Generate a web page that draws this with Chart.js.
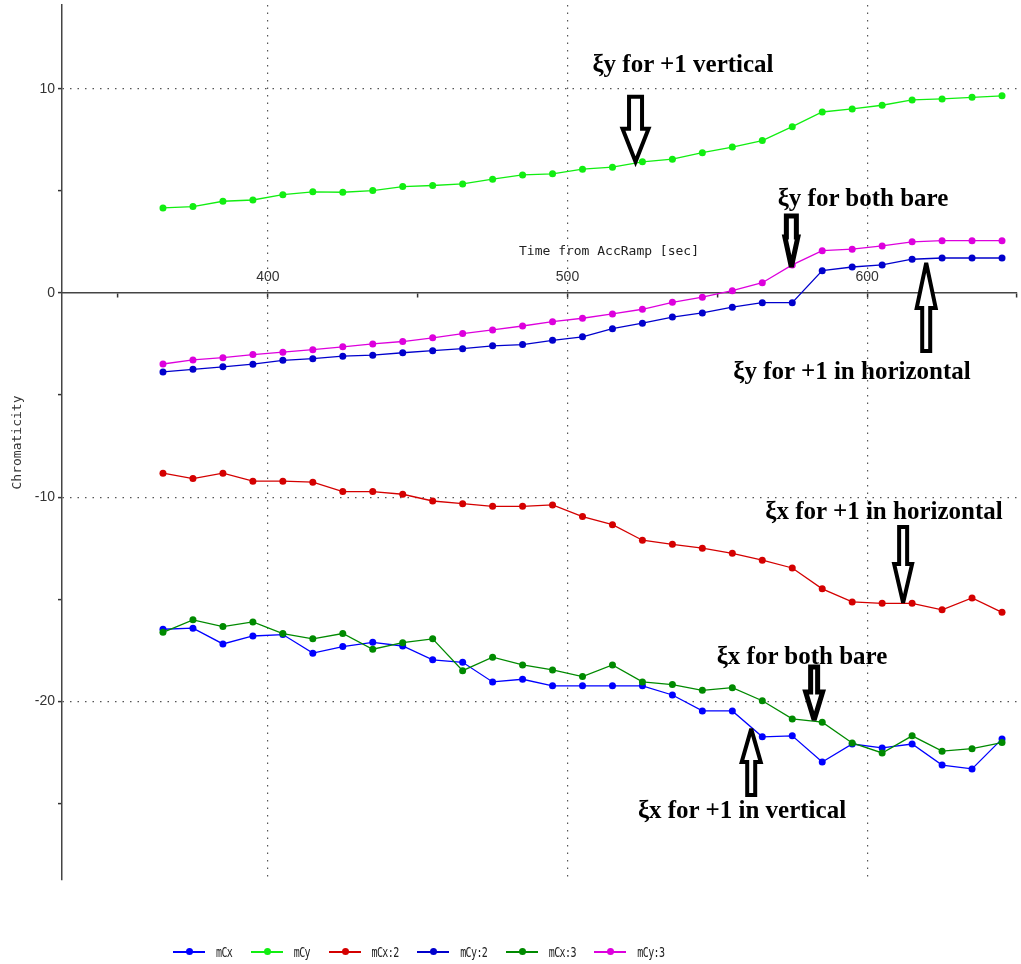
<!DOCTYPE html>
<html>
<head>
<meta charset="utf-8">
<title>Chromaticity vs time from AccRamp</title>
<script src="https://cdn.jsdelivr.net/npm/chart.js@4/dist/chart.umd.min.js"></script>
<style>
    html, body { margin: 0; padding: 0; background: #fff; }
    #wrap { position: relative; width: 1021px; height: 964px; }
    #wrap canvas { position: absolute; left: 0; top: 0; }
    .note {
        position: absolute;
        transform: translate(-50%, -50%);
        font: bold 25px "Liberation Serif", "Times New Roman", serif;
        color: #000;
        white-space: nowrap;
        line-height: 1;
    }
    .xtitle {
        position: absolute;
        transform: translate(-50%, -50%);
        font: 13px "DejaVu Sans Mono", monospace;
        color: #222;
        white-space: nowrap;
    }
    #legend {
        position: absolute;
        left: 173px;
        top: 944px;
        height: 16px;
        display: flex;
        align-items: center;
    }
    #legend .item { display: flex; align-items: center; margin-right: 18.5px; }
    #legend .sw { position: relative; width: 32px; height: 1.6px; margin-right: 11px; }
    #legend .sw i { position: absolute; left: 13px; top: -3px; width: 7px; height: 7px; border-radius: 50%; }
    #legend .lbl {
        display: inline-block;
        font: 10px "DejaVu Sans Mono", monospace;
        letter-spacing: -0.6px;
        color: #222;
        transform: scaleY(1.4);
    }
</style>
</head>
<body>
<div id="wrap">
    <canvas id="chart"></canvas>
    <div class="xtitle" style="left:609px; top:250px;">Time from AccRamp [sec]</div>
    <div id="legend"></div>
</div>
<script>
// time axis (sec from AccRamp)
var times = [365, 375, 385, 395, 405, 415, 425, 435, 445, 455, 465, 475, 485, 495, 505,
             515, 525, 535, 545, 555, 565, 575, 585, 595, 605, 615, 625, 635, 645];

var mCx  = [-16.47, -16.42, -17.19, -16.80, -16.73, -17.64, -17.32, -17.11, -17.29, -17.97,
            -18.09, -19.05, -18.92, -19.24, -19.24, -19.24, -19.24, -19.69, -20.47, -20.47,
            -21.74, -21.69, -22.97, -22.09, -22.28, -22.09, -23.12, -23.31, -21.84];
var mCy  = [4.16, 4.23, 4.49, 4.55, 4.81, 4.95, 4.93, 5.01, 5.21, 5.26,
            5.34, 5.57, 5.78, 5.83, 6.06, 6.16, 6.42, 6.55, 6.87, 7.14,
            7.46, 8.14, 8.86, 9.01, 9.19, 9.45, 9.50, 9.58, 9.65];
var mCx2 = [-8.83, -9.09, -8.83, -9.22, -9.22, -9.27, -9.73, -9.73, -9.86, -10.19,
            -10.32, -10.45, -10.45, -10.38, -10.95, -11.35, -12.11, -12.31, -12.50, -12.75,
            -13.09, -13.47, -14.49, -15.13, -15.20, -15.20, -15.52, -14.94, -15.64];
var mCy2 = [-3.87, -3.74, -3.62, -3.49, -3.30, -3.22, -3.10, -3.05, -2.93, -2.83,
            -2.73, -2.59, -2.53, -2.32, -2.15, -1.75, -1.48, -1.18, -0.98, -0.70,
            -0.48, -0.48, 1.09, 1.27, 1.37, 1.65, 1.71, 1.71, 1.71];
var mCx3 = [-16.62, -16.01, -16.34, -16.11, -16.68, -16.94, -16.68, -17.45, -17.13, -16.94,
            -18.50, -17.84, -18.22, -18.46, -18.79, -18.22, -19.05, -19.18, -19.46, -19.33,
            -19.97, -20.86, -21.02, -22.04, -22.53, -21.69, -22.44, -22.32, -22.02];
var mCy3 = [-3.48, -3.28, -3.17, -3.02, -2.90, -2.78, -2.64, -2.50, -2.38, -2.20,
            -1.99, -1.81, -1.62, -1.41, -1.24, -1.03, -0.80, -0.46, -0.21, 0.11,
            0.50, 1.37, 2.07, 2.14, 2.30, 2.50, 2.56, 2.56, 2.56];

var seriesNames  = ['mCx', 'mCy', 'mCx:2', 'mCy:2', 'mCx:3', 'mCy:3'];
var seriesValues = [mCx, mCy, mCx2, mCy2, mCx3, mCy3];
var seriesColors = ['#0000ff', '#11ee11', '#d40000', '#0000cc', '#008a00', '#dd00dd'];

// annotations: text (pixel placement) and arrows pointing at a (time, chromaticity) spot
var notes = [
    { text: 'ξy for +1 vertical',      tx: 683, ty: 63,  at: [522.7, 6.42],   dir: 'down', len: 65, head: 33, headW: 26, shaftW: 13, lw: 4 },
    { text: 'ξy for both bare',        tx: 863, ty: 197, at: [574.7, 1.27],   dir: 'down', len: 51, head: 30, headW: 13, shaftW: 10, lw: 5 },
    { text: 'ξy for +1 in horizontal', tx: 852, ty: 370, at: [619.7, 1.47],   dir: 'up',   len: 88, head: 45, headW: 19, shaftW: 8,  lw: 4 },
    { text: 'ξx for +1 in horizontal', tx: 884, ty: 510, at: [612.0, -15.18], dir: 'down', len: 76, head: 39, headW: 18, shaftW: 8,  lw: 4 },
    { text: 'ξx for both bare',        tx: 802, ty: 655, at: [582.3, -20.91], dir: 'down', len: 53, head: 28, headW: 17, shaftW: 7,  lw: 5 },
    { text: 'ξx for +1 in vertical',   tx: 742, ty: 809, at: [561.3, -21.35], dir: 'up',   len: 66, head: 33, headW: 19, shaftW: 8,  lw: 4 }
];

var wrap = document.getElementById('wrap');
notes.forEach(function(n) {
    var d = document.createElement('div');
    d.className = 'note';
    d.style.left = n.tx + 'px';
    d.style.top = n.ty + 'px';
    d.textContent = n.text;
    wrap.appendChild(d);
});

var legend = document.getElementById('legend');
seriesNames.forEach(function(name, i) {
    var item = document.createElement('div');
    item.className = 'item';
    item.innerHTML = '<span class="sw" style="background:' + seriesColors[i] + '"><i style="background:' +
        seriesColors[i] + '"></i></span><span class="lbl">' + name + '</span>';
    legend.appendChild(item);
});

var arrows = {
    id: 'arrows',
    afterDatasetsDraw: function(chart) {
        var ctx = chart.ctx, xs = chart.scales.x, ys = chart.scales.y;
        notes.forEach(function(n) {
            var x = xs.getPixelForValue(n.at[0]);
            var y = ys.getPixelForValue(n.at[1]);
            var s = n.dir === 'down' ? -1 : 1;   // side where the tail is
            ctx.save();
            ctx.beginPath();
            ctx.moveTo(x - n.shaftW / 2, y + s * n.len);
            ctx.lineTo(x + n.shaftW / 2, y + s * n.len);
            ctx.lineTo(x + n.shaftW / 2, y + s * n.head);
            ctx.lineTo(x + n.headW / 2, y + s * n.head);
            ctx.lineTo(x, y);
            ctx.lineTo(x - n.headW / 2, y + s * n.head);
            ctx.lineTo(x - n.shaftW / 2, y + s * n.head);
            ctx.closePath();
            ctx.fillStyle = '#fff';
            ctx.fill();
            ctx.lineWidth = n.lw;
            ctx.lineJoin = 'miter';
            ctx.miterLimit = 3;
            ctx.strokeStyle = '#000';
            ctx.stroke();
            ctx.restore();
        });
    }
};

var datasets = seriesNames.map(function(name, i) {
    return {
        label: name,
        data: times.map(function(t, k) { return { x: t, y: seriesValues[i][k] }; }),
        borderColor: seriesColors[i],
        backgroundColor: seriesColors[i],
        pointBackgroundColor: seriesColors[i],
        pointBorderWidth: 0,
        pointRadius: 3.5,
        borderWidth: 1.3,
        tension: 0,
        fill: false,
        order: seriesNames.length - i
    };
});

var tickFont = { family: 'Liberation Sans', size: 14 };
var dots = [1.5, 6];
var none = 'rgba(0,0,0,0)';

new Chart(document.getElementById('chart').getContext('2d'), {
    type: 'line',
    data: { datasets: datasets },
    plugins: [arrows],
    options: {
        responsive: true,
        maintainAspectRatio: false,
        animation: false,
        layout: { padding: { top: 5, right: 3, bottom: 84, left: 0 } },
        plugins: { legend: { display: false }, tooltip: { enabled: false } },
        scales: {
            x: {
                type: 'linear',
                position: { y: 0 },
                min: 331.3,
                max: 650,
                afterFit: function(s) { s.paddingLeft = 0; s.paddingRight = 0; },
                ticks: {
                    stepSize: 50,
                    includeBounds: false,
                    autoSkip: false,
                    maxRotation: 0,
                    padding: -28,
                    color: '#333',
                    font: tickFont,
                    callback: function(v) { return Math.abs(v % 100) < 1e-6 ? v : ''; }
                },
                grid: {
                    color: function(c) { return c.tick && Math.abs(c.tick.value % 100) < 1e-6 ? '#555' : none; },
                    lineWidth: 1.2,
                    tickColor: '#333',
                    tickLength: 4,
                    tickWidth: 1.5
                },
                border: { color: '#444', width: 1.5, dash: dots }
            },
            y: {
                type: 'linear',
                position: 'left',
                min: -28.75,
                max: 14.1,
                afterFit: function(s) { s.width = 62; s.paddingTop = 0; s.paddingBottom = 0; },
                ticks: {
                    stepSize: 5,
                    includeBounds: false,
                    padding: 3,
                    color: '#333',
                    font: tickFont,
                    callback: function(v) { return Math.abs(v % 10) < 1e-6 ? v : ''; }
                },
                grid: {
                    color: function(c) {
                        var v = c.tick && c.tick.value;
                        return c.tick && v !== 0 && Math.abs(v % 10) < 1e-6 ? '#555' : none;
                    },
                    lineWidth: 1.2,
                    tickColor: '#333',
                    tickLength: 4,
                    tickWidth: 1.5
                },
                border: { color: '#444', width: 1.5, dash: dots },
                title: {
                    display: true,
                    text: 'Chromaticity',
                    color: '#333',
                    font: { family: 'DejaVu Sans Mono', size: 13 },
                    padding: { top: 10, bottom: 0 }
                }
            }
        }
    }
});
</script>
</body>
</html>
